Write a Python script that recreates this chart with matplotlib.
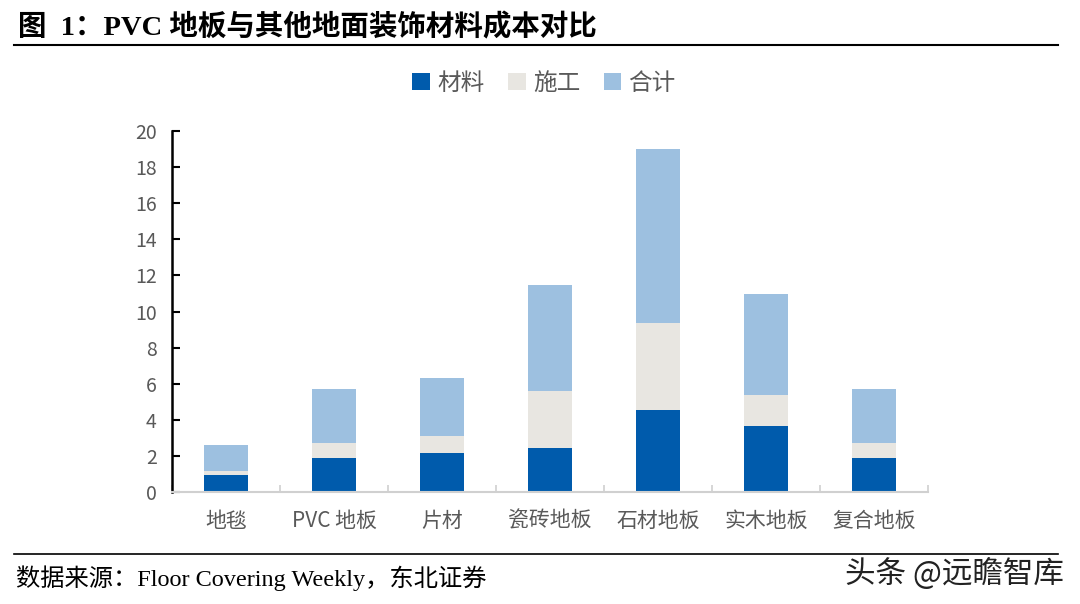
import matplotlib
matplotlib.use('Agg')
import matplotlib.pyplot as plt
import numpy as np

plt.rcParams['font.family'] = ['Noto Sans CJK SC', 'DejaVu Sans']

categories = ['地毯', 'PVC 地板', '片材', '瓷砖地板', '石材地板', '实木地板', '复合地板']
material = [0.93, 1.91, 2.16, 2.41, 4.53, 3.64, 1.91]
labour = [0.24, 0.81, 0.93, 3.19, 4.84, 1.71, 0.81]
total = [1.42, 2.96, 3.25, 5.86, 9.62, 5.61, 2.96]
series_names = ['材料', '施工', '合计']
colors = ['#005bac', '#e8e6e1', '#9dc0e0']

fig = plt.figure(figsize=(10.8, 6.04), dpi=100)
ax = fig.add_axes([172/1080, 1-492/604, 756/1080, 361/604])

x = np.arange(len(categories))
w = 0.41
ax.bar(x, material, w, color=colors[0], label=series_names[0])
ax.bar(x, labour, w, bottom=material, color=colors[1], label=series_names[1])
bottom2 = np.array(material) + np.array(labour)
ax.bar(x, total, w, bottom=bottom2, color=colors[2], label=series_names[2])

ax.set_xlim(-0.5, len(categories) - 0.5)
ax.set_ylim(0, 20)
ax.set_yticks(np.arange(0, 21, 2))
ax.tick_params(axis='y', direction='in', length=6, width=1.5, color='black',
               labelsize=14, labelcolor='#595959', pad=11)
ax.set_xticks(x)
ax.set_xticklabels(categories)
ax.tick_params(axis='x', which='major', length=0, labelsize=15, labelcolor='#595959', pad=13)
ax.set_xticks(np.arange(-0.5, len(categories)), minor=True)
ax.tick_params(axis='x', which='minor', direction='in', length=5, width=1.2, color='#d0d0d0')

for s in ['top', 'right']:
    ax.spines[s].set_visible(False)
ax.spines['left'].set_color('black')
ax.spines['left'].set_linewidth(1.8)
ax.spines['bottom'].set_color('#d0d0d0')
ax.spines['bottom'].set_linewidth(1.5)

ax.legend(loc='center', bbox_to_anchor=(544/1080, 1-83/604), bbox_transform=fig.transFigure,
          ncol=3, frameon=False, fontsize=17, handlelength=0.75, handleheight=0.75,
          handletextpad=0.3, columnspacing=1.0, labelcolor='#595959')

title_font = ['Liberation Serif', 'Noto Sans CJK SC']
fig.text(18/1080, 1-27/604, '图  1：PVC 地板与其他地面装饰材料成本对比', fontsize=20.5, fontweight='bold',
         family=title_font, va='center', ha='left', color='black')
fig.add_artist(plt.Line2D([14/1080, 1058/1080], [1-45/604, 1-45/604], color='black', lw=1.5,
                          transform=fig.transFigure))
fig.add_artist(plt.Line2D([14/1080, 1058/1080], [1-554/604, 1-554/604], color='black', lw=1.2,
                          transform=fig.transFigure))
fig.text(16/1080, 1-578/604, '数据来源：Floor Covering Weekly，东北证券', fontsize=17.5,
         family=title_font, va='center', ha='left', color='black')
fig.text(1064/1080, 1-574/604, '头条 @远瞻智库', fontsize=22, va='center', ha='right', color='#222222')

fig.savefig('out.png', dpi=100)
